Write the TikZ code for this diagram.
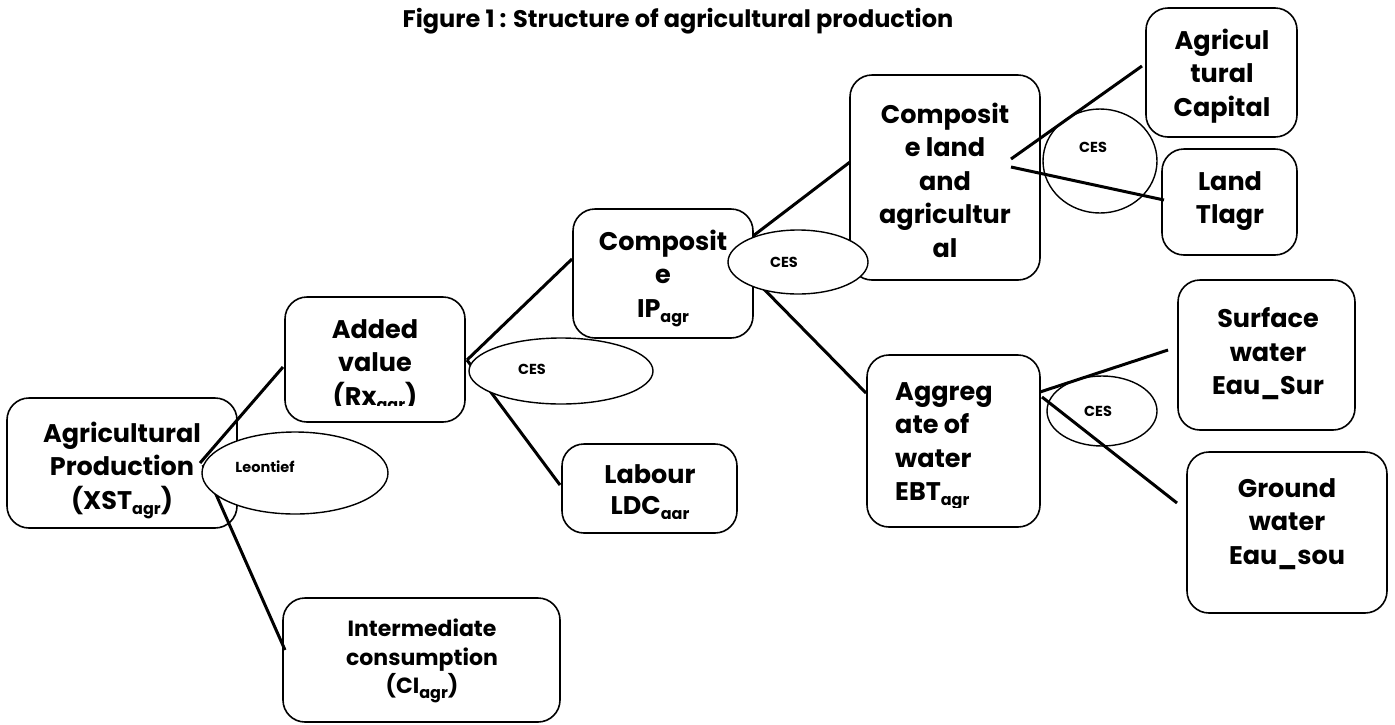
\documentclass[tikz,border=0pt]{standalone}
\usepackage{fontspec}
\setmainfont{Poppins}
\usetikzlibrary{shapes.geometric}
\newcommand\sbs[1]{\raisebox{-0.35ex}{\fontsize{16}{16}\selectfont #1}}
\begin{document}
\begin{tikzpicture}[x=1pt,y=-1pt,
  box/.style={draw=black,line width=1.6pt,rounded corners=22pt,fill=white,inner sep=0pt},
  txt/.style={align=center,font=\bfseries\fontsize{25.5}{33.5}\selectfont,inner sep=0pt},
  ltxt/.style={align=left,font=\bfseries\fontsize{25.5}{33.5}\selectfont,inner sep=0pt},
  lab/.style={font=\bfseries\fontsize{14.5}{17}\selectfont,inner sep=0pt},
  ell/.style={draw=black,line width=1.4pt,ellipse,inner sep=0pt},
  conn/.style={line width=3pt}]
\useasboundingbox (0,0) rectangle (1395,724);
% title
\node[font=\bfseries\fontsize{24}{28}\selectfont,inner sep=0pt] (title) at (678,21) {Figure 1 : Structure of agricultural production};
% boxes
\node[box,minimum width=230pt,minimum height=130pt] (ap) at (122,463) {};
\node[box,minimum width=180pt,minimum height=125pt] (av) at (375,359.5) {};
\node[box,minimum width=277pt,minimum height=124pt] (ic) at (421.5,660) {};
\node[box,minimum width=180pt,minimum height=129pt] (cip) at (663,273.5) {};
\node[box,minimum width=175pt,minimum height=89pt] (lb) at (649.5,488.5) {};
\node[box,minimum width=190pt,minimum height=205pt] (cl) at (945,177.5) {};
\node[box,minimum width=151pt,minimum height=129pt] (cap) at (1221.5,72.5) {};
\node[box,minimum width=135pt,minimum height=106pt] (land) at (1229.5,202) {};
\node[box,minimum width=173pt,minimum height=172pt] (agw) at (953.5,441) {};
\node[box,minimum width=177pt,minimum height=150pt] (sw) at (1266.5,355) {};
\node[box,minimum width=200pt,minimum height=161pt] (gw) at (1287,532.5) {};
% texts
\node[txt] (tap) at (122,470) {Agricultural\\Production\\(XST\sbs{agr})};
\begin{scope}
\clip (285,297) rectangle (465,405);
\node[txt] (tav) at (375,367) {Added\\value\\(Rx\sbs{agr})};
\end{scope}
\node[txt,font=\bfseries\fontsize{22}{28.5}\selectfont] (tic) at (422,661) {Intermediate\\consumption\\(CI\sbs{agr})};
\node[txt] (tcip) at (663,278) {Composit\\e\\IP\sbs{agr}};
\begin{scope}
\clip (562,444) rectangle (737,518);
\node[txt,font=\bfseries\fontsize{25.5}{31.5}\selectfont] (tlb) at (650,494) {Labour\\LDC\sbs{agr}};
\end{scope}
\node[txt] (tcl) at (945,180) {Composit\\e land\\and\\agricultur\\al};
\node[txt] (tcap) at (1222,76) {Agricul\\tural\\Capital};
\node[txt] (tland) at (1230,201) {Land\\Tlagr};
\begin{scope}
\clip (867,355) rectangle (1040,507);
\node[ltxt,anchor=west] (tagw) at (895,446) {Aggreg\\ate of\\water\\EBT\sbs{agr}};
\end{scope}
\node[txt] (tsw) at (1268,354) {Surface\\water\\Eau\_Sur};
\node[txt] (tgw) at (1287,524) {Ground\\water\\Eau\_sou};
% connector end points
\coordinate (a1) at (200,463);
\coordinate (a2) at (203,465);
\coordinate (b1) at (283,367);
\coordinate (b2) at (285,650);
\coordinate (c0) at (467,360);
\coordinate (c1) at (572,259);
\coordinate (c2) at (560,485);
\coordinate (d1) at (753,236);
\coordinate (d2) at (753,278);
\coordinate (e1) at (850,162);
\coordinate (e2) at (866,393);
\coordinate (f1) at (1011,159);
\coordinate (f2) at (1011,167);
\coordinate (g1) at (1142,66);
\coordinate (g2) at (1164,200);
\coordinate (h1) at (1040,392);
\coordinate (h2) at (1042,397);
\coordinate (k1) at (1168,350);
\coordinate (k2) at (1177,503);
% unfilled ellipses
\node[ell,minimum width=114pt,minimum height=104pt] (cescl) at (1100,161) {};
\node[ell,minimum width=110pt,minimum height=70pt] (cesw) at (1102,411) {};
% connectors
\draw[conn] (a1) -- (b1);
\draw[conn] (a2) -- (b2);
\draw[conn] (c0) -- (c1);
\draw[conn] (c0) -- (c2);
\draw[conn] (d1) -- (e1);
\draw[conn] (d2) -- (e2);
\draw[conn] (f1) -- (g1);
\draw[conn] (f2) -- (g2);
\draw[conn] (h1) -- (k1);
\draw[conn] (h2) -- (k2);
% filled ellipses
\node[ell,fill=white,minimum width=186pt,minimum height=82pt] (leo) at (295,473) {};
\node[ell,fill=white,minimum width=184pt,minimum height=66pt] (cesav) at (561,371) {};
\node[ell,fill=white,minimum width=140pt,minimum height=64pt] (cesip) at (798,262) {};
% ellipse labels
\node[lab] (tleo) at (265,467) {Leontief};
\node[lab] (tcesav) at (532,369) {CES};
\node[lab] (tcesip) at (784,262) {CES};
\node[lab] (tcescl) at (1093,147) {CES};
\node[lab] (tcesw) at (1098,411) {CES};
\end{tikzpicture}
\end{document}
